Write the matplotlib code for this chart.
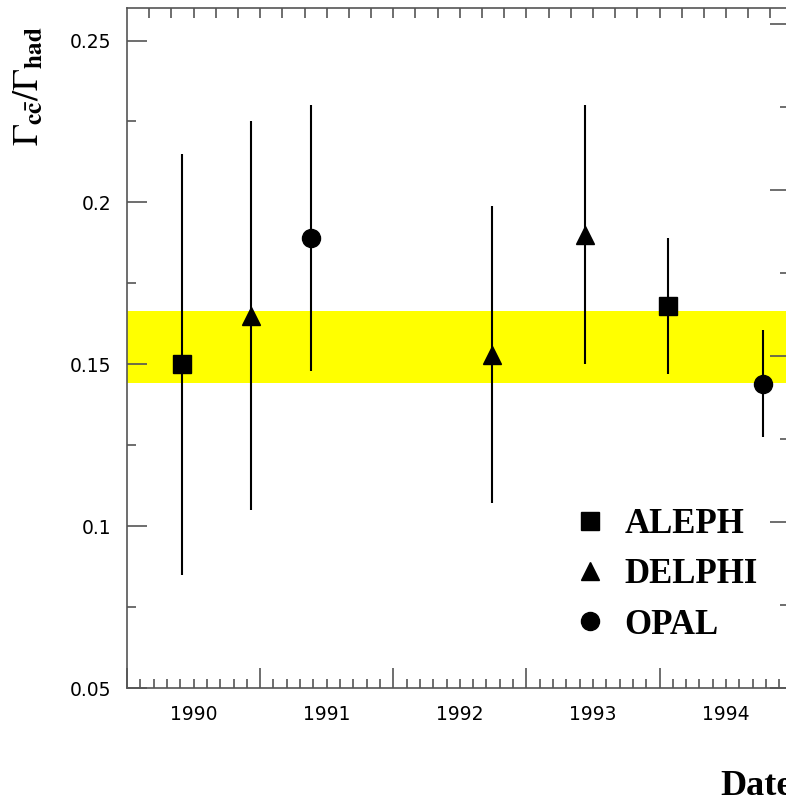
import numpy as np
import matplotlib
matplotlib.use("Agg")
import matplotlib.pyplot as plt
from matplotlib.ticker import MultipleLocator

plt.rcParams["mathtext.fontset"] = "stix"

# measurements (decimal year, Gamma_cc/Gamma_had, symmetric error)
aleph_date = [1990.41, 1994.06]
aleph_val = [0.150, 0.168]
aleph_err = [0.065, 0.021]

delphi_date = [1990.93, 1992.74, 1993.44]
delphi_val = [0.165, 0.153, 0.190]
delphi_err = [0.060, 0.046, 0.040]

opal_date = [1991.38, 1994.78]
opal_val = [0.189, 0.144]
opal_err = [0.041, 0.0165]

# average band
band_low = 0.1441
band_high = 0.1666

years = [1990, 1991, 1992, 1993, 1994]
year_labels = ["1990", "1991", "1992", "1993", "1994"]

fig = plt.figure(figsize=(7.86, 7.97), dpi=100)
ax = fig.add_axes([127 / 786, 109 / 797, 663 / 786, 680 / 797])

ax.axhspan(band_low, band_high, color="#ffff00", lw=0, zorder=1)

serif_bold = dict(family="Liberation Serif", weight="bold")
ms = 13
series = [
    (aleph_date, aleph_val, aleph_err, "s", "ALEPH", ms),
    (delphi_date, delphi_val, delphi_err, "^", "DELPHI", ms),
    (opal_date, opal_val, opal_err, "o", "OPAL", ms),
]
handles = []
for d, v, e, m, name, size in series:
    ax.errorbar(d, v, yerr=e, fmt="none", ecolor="black", elinewidth=1.5,
                capsize=0, zorder=3)
    h, = ax.plot(d, v, linestyle="none", marker=m, markersize=size,
                 color="black", label=name, zorder=4)
    handles.append(h)

ax.set_xlim(1990, 1994.98)
ax.set_ylim(0.05, 0.05 + 680 / 3237.5)

# axis styling
axis_col = "#555555"
for s in ax.spines.values():
    s.set_color(axis_col)
    s.set_linewidth(1.2)

ax.xaxis.set_major_locator(MultipleLocator(1))
ax.xaxis.set_minor_locator(MultipleLocator(0.1))
ax.yaxis.set_major_locator(MultipleLocator(0.05))
ax.yaxis.set_minor_locator(MultipleLocator(0.025))
ax.tick_params(which="both", direction="in", color=axis_col, width=1.2)
ax.tick_params(which="major", length=14.4)
ax.tick_params(which="minor", length=6.5)
ax.tick_params(axis="x", labelbottom=False)
ax.tick_params(axis="y", labelsize=13.5, pad=11)
ax.set_yticks([0.05, 0.1, 0.15, 0.2, 0.25])
ax.set_yticklabels(["0.05", "0.1", "0.15", "0.2", "0.25"])

# year labels centred in each year
sec = ax.secondary_xaxis("bottom")
sec.set_xticks([y + 0.5 for y in years])
sec.set_xticklabels(year_labels)
sec.tick_params(length=0, labelsize=13.5, pad=12)
sec.spines["bottom"].set_visible(False)

# top ticks every two months
top = ax.secondary_xaxis("top")
top.set_xticks(np.arange(1990 + 1 / 6, 1995, 1 / 6))
top.tick_params(direction="in", length=7, labeltop=False, color=axis_col, width=1.2)
top.spines["top"].set_visible(False)

# right ticks (slightly different scale as in the original frame)
right = ax.twinx()
right.set_ylim(ax.get_ylim())
right.set_yticks(np.arange(0.05, 0.26, 0.0513))
right.set_yticks(np.arange(0.05 + 0.0513 / 2, 0.26, 0.0513), minor=True)
right.tick_params(which="both", direction="in", labelright=False, color=axis_col, width=1.2)
right.tick_params(which="major", length=14.4)
right.tick_params(which="minor", length=7)
for s in right.spines.values():
    s.set_visible(False)

fig.text(0.014, 0.892, r"$\Gamma_{\mathbf{c\bar{c}}}/\Gamma_{\mathbf{had}}$",
         rotation=90, fontsize=26, ha="left", va="center")
fig.text(720 / 786, 2 / 797, "Date", fontsize=26, ha="left", va="baseline",
         **serif_bold)

ax.legend(handles=handles, loc="upper left", bbox_to_anchor=(0.672, 0.265),
          frameon=False, handlelength=1.0, handletextpad=0.5,
          labelspacing=0.5, borderpad=0, borderaxespad=0,
          prop=dict(family="Liberation Serif", weight="bold", size=25))

fig.savefig("out.png", dpi=100)
